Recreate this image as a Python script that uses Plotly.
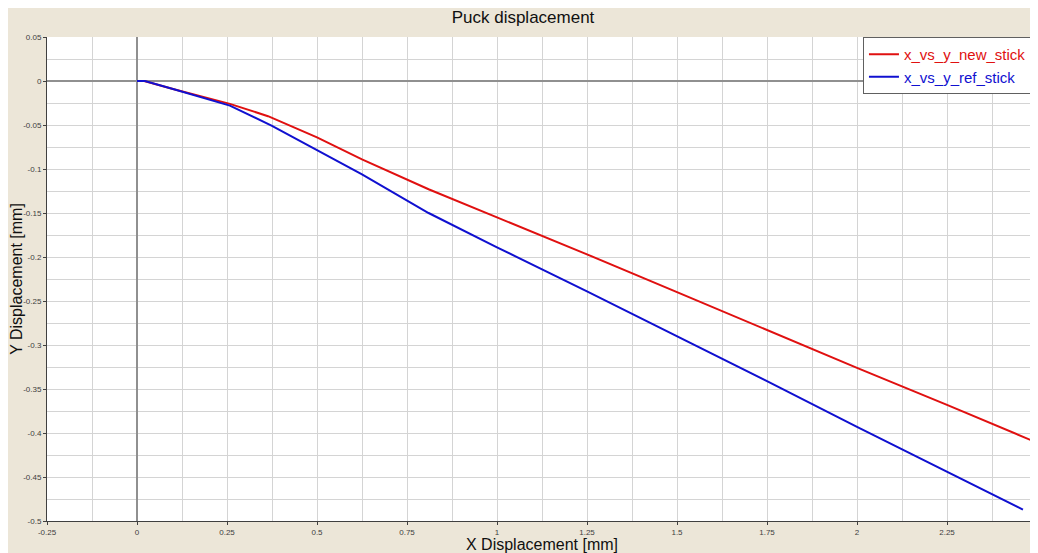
import plotly.graph_objects as go

new_x = [0.0, 0.02, 0.10, 0.258, 0.364, 0.50, 0.625, 0.81, 1.0, 1.25, 1.5, 1.75, 2.0, 2.25, 2.5]
new_y = [0.0, 0.0, -0.009, -0.026, -0.040, -0.064, -0.089, -0.123, -0.155, -0.197, -0.240, -0.283, -0.326, -0.368, -0.411]

ref_x = [0.0, 0.022, 0.10, 0.258, 0.375, 0.506, 0.625, 0.81, 1.0, 1.25, 1.5, 1.75, 2.0, 2.25, 2.461]
ref_y = [0.0, 0.0, -0.009, -0.028, -0.051, -0.080, -0.106, -0.150, -0.189, -0.239, -0.290, -0.341, -0.393, -0.444, -0.487]

x_ticks = [-0.25, 0, 0.25, 0.5, 0.75, 1, 1.25, 1.5, 1.75, 2, 2.25, 2.5]
x_labels = ["-0.25", "0", "0.25", "0.5", "0.75", "1", "1.25", "1.5", "1.75", "2", "2.25", "2.5"]
y_ticks = [0.05, 0, -0.05, -0.1, -0.15, -0.2, -0.25, -0.3, -0.35, -0.4, -0.45, -0.5]
y_labels = ["0.05", "0", "-0.05", "-0.1", "-0.15", "-0.2", "-0.25", "-0.3", "-0.35", "-0.4", "-0.45", "-0.5"]

RED = "#E01010"
BLUE = "#1010D0"

fig = go.Figure()
fig.add_trace(go.Scatter(x=new_x, y=new_y, mode="lines", line=dict(color=RED, width=2),
                         name=f"<span style='color:{RED}'>x_vs_y_new_stick</span>"))
fig.add_trace(go.Scatter(x=ref_x, y=ref_y, mode="lines", line=dict(color=BLUE, width=2),
                         name=f"<span style='color:{BLUE}'>x_vs_y_ref_stick</span>"))

fig.update_layout(
    width=1030, height=545,
    margin=dict(l=39, r=1, t=29, b=32),
    paper_bgcolor="#ECE6D8",
    plot_bgcolor="#FFFFFF",
    font=dict(family="Arial, Liberation Sans, sans-serif", color="#202020"),
    title=dict(text="Puck displacement", x=0.5, xanchor="center", y=0.995, yanchor="top",
               font=dict(size=17, color="#101010")),
    showlegend=True,
    legend=dict(x=0.8242, xanchor="left", y=1, yanchor="top", bgcolor="#FFFFFF",
                bordercolor="#606060", borderwidth=1, font=dict(size=15),
                itemwidth=30, tracegroupgap=0),
)
fig.update_xaxes(
    range=[-0.25, 2.5], tickvals=x_ticks, ticktext=x_labels,
    tickfont=dict(size=8, color="#404040"), ticks="outside", ticklen=3, tickcolor="#404040",
    showgrid=True, gridcolor="#D4D4D4", gridwidth=1,
    minor=dict(dtick=0.125, tick0=0, showgrid=True, gridcolor="#D4D4D4", gridwidth=1),
    zeroline=True, zerolinecolor="#909090", zerolinewidth=2,
    showline=True, linecolor="#404040", linewidth=1, mirror=False,
    title=dict(text="X Displacement [mm]", font=dict(size=16, color="#101010"), standoff=0),
)
fig.update_yaxes(
    range=[-0.5, 0.05], tickvals=y_ticks, ticktext=y_labels,
    tickfont=dict(size=8, color="#404040"), ticks="outside", ticklen=3, tickcolor="#404040",
    showgrid=True, gridcolor="#D4D4D4", gridwidth=1,
    minor=dict(dtick=0.025, tick0=0, showgrid=True, gridcolor="#D4D4D4", gridwidth=1),
    zeroline=True, zerolinecolor="#909090", zerolinewidth=2,
    showline=True, linecolor="#404040", linewidth=1, mirror=False,
    title=dict(text="Y Displacement [mm]", font=dict(size=16, color="#101010"), standoff=4),
)

fig.write_html("out.html")
